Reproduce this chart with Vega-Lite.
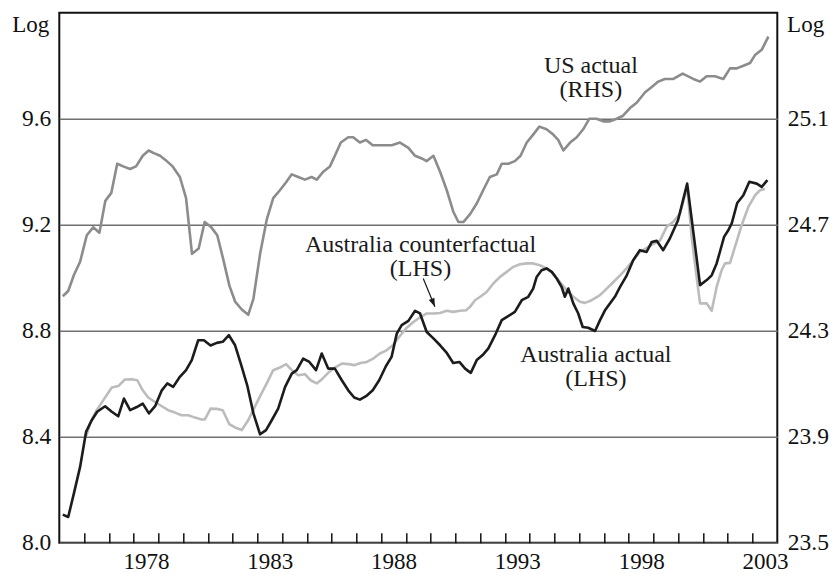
{
  "$schema": "https://vega.github.io/schema/vega-lite/v6.json",
  "width": 718,
  "height": 530,
  "autosize": {"type": "none"},
  "padding": {"left": 59.3, "top": 12.7, "right": 52.7, "bottom": 31.3},
  "background": "#ffffff",
  "config": {
    "font": "Liberation Serif",
    "view": {"stroke": "#111111", "strokeWidth": 2},
    "axis": {
      "labelFont": "Liberation Serif",
      "labelFontSize": 23.5,
      "labelColor": "#111111",
      "titleFont": "Liberation Serif",
      "titleFontWeight": "normal",
      "titleFontSize": 23,
      "titleColor": "#111111"
    }
  },
  "datasets": {
    "us": [
      {"year": 1975.14, "value": 24.43}, {"year": 1975.36, "value": 24.45}, {"year": 1975.59, "value": 24.51}, {"year": 1975.84, "value": 24.56},
      {"year": 1976.11, "value": 24.66}, {"year": 1976.37, "value": 24.69}, {"year": 1976.62, "value": 24.67}, {"year": 1976.86, "value": 24.79},
      {"year": 1977.10, "value": 24.82}, {"year": 1977.34, "value": 24.93}, {"year": 1977.58, "value": 24.92}, {"year": 1977.86, "value": 24.91},
      {"year": 1978.10, "value": 24.92}, {"year": 1978.37, "value": 24.96}, {"year": 1978.61, "value": 24.98}, {"year": 1978.82, "value": 24.97},
      {"year": 1979.07, "value": 24.96}, {"year": 1979.34, "value": 24.94}, {"year": 1979.58, "value": 24.92}, {"year": 1979.87, "value": 24.88},
      {"year": 1980.12, "value": 24.80}, {"year": 1980.36, "value": 24.59}, {"year": 1980.63, "value": 24.61}, {"year": 1980.87, "value": 24.71},
      {"year": 1981.14, "value": 24.69}, {"year": 1981.38, "value": 24.66}, {"year": 1981.62, "value": 24.57}, {"year": 1981.87, "value": 24.47},
      {"year": 1982.10, "value": 24.41}, {"year": 1982.37, "value": 24.38}, {"year": 1982.63, "value": 24.36}, {"year": 1982.84, "value": 24.42},
      {"year": 1983.11, "value": 24.59}, {"year": 1983.38, "value": 24.72}, {"year": 1983.64, "value": 24.80}, {"year": 1983.91, "value": 24.83},
      {"year": 1984.16, "value": 24.86}, {"year": 1984.39, "value": 24.89}, {"year": 1984.65, "value": 24.88}, {"year": 1984.92, "value": 24.87},
      {"year": 1985.19, "value": 24.88}, {"year": 1985.40, "value": 24.87}, {"year": 1985.66, "value": 24.90}, {"year": 1985.93, "value": 24.92},
      {"year": 1986.13, "value": 24.96}, {"year": 1986.37, "value": 25.01}, {"year": 1986.67, "value": 25.03}, {"year": 1986.87, "value": 25.03},
      {"year": 1987.14, "value": 25.01}, {"year": 1987.39, "value": 25.02}, {"year": 1987.66, "value": 25.00}, {"year": 1987.88, "value": 25.00},
      {"year": 1988.15, "value": 25.00}, {"year": 1988.43, "value": 25.00}, {"year": 1988.76, "value": 25.01}, {"year": 1989.10, "value": 24.99},
      {"year": 1989.37, "value": 24.96}, {"year": 1989.64, "value": 24.95}, {"year": 1989.84, "value": 24.94}, {"year": 1990.11, "value": 24.96},
      {"year": 1990.38, "value": 24.90}, {"year": 1990.65, "value": 24.83}, {"year": 1990.91, "value": 24.75}, {"year": 1991.12, "value": 24.71},
      {"year": 1991.32, "value": 24.71}, {"year": 1991.59, "value": 24.74}, {"year": 1991.86, "value": 24.78}, {"year": 1992.12, "value": 24.83},
      {"year": 1992.39, "value": 24.88}, {"year": 1992.67, "value": 24.89}, {"year": 1992.87, "value": 24.93}, {"year": 1993.13, "value": 24.93},
      {"year": 1993.40, "value": 24.94}, {"year": 1993.63, "value": 24.96}, {"year": 1993.88, "value": 25.01}, {"year": 1994.14, "value": 25.04},
      {"year": 1994.39, "value": 25.07}, {"year": 1994.68, "value": 25.06}, {"year": 1994.95, "value": 25.04}, {"year": 1995.15, "value": 25.02},
      {"year": 1995.36, "value": 24.98}, {"year": 1995.63, "value": 25.01}, {"year": 1995.90, "value": 25.03}, {"year": 1996.16, "value": 25.06},
      {"year": 1996.41, "value": 25.10}, {"year": 1996.70, "value": 25.10}, {"year": 1996.97, "value": 25.09}, {"year": 1997.24, "value": 25.09},
      {"year": 1997.51, "value": 25.10}, {"year": 1997.75, "value": 25.11}, {"year": 1998.05, "value": 25.14}, {"year": 1998.32, "value": 25.16},
      {"year": 1998.66, "value": 25.20}, {"year": 1998.93, "value": 25.22}, {"year": 1999.19, "value": 25.24}, {"year": 1999.46, "value": 25.25},
      {"year": 1999.80, "value": 25.25}, {"year": 2000.18, "value": 25.27}, {"year": 2000.40, "value": 25.26}, {"year": 2000.61, "value": 25.25},
      {"year": 2000.88, "value": 25.24}, {"year": 2001.15, "value": 25.26}, {"year": 2001.48, "value": 25.26}, {"year": 2001.82, "value": 25.25},
      {"year": 2002.09, "value": 25.29}, {"year": 2002.36, "value": 25.29}, {"year": 2002.63, "value": 25.30}, {"year": 2002.90, "value": 25.31},
      {"year": 2003.10, "value": 25.34}, {"year": 2003.37, "value": 25.36}, {"year": 2003.64, "value": 25.41}
    ],
    "aus": [
      {"year": 1975.14, "value": 8.106}, {"year": 1975.36, "value": 8.097}, {"year": 1975.59, "value": 8.186}, {"year": 1975.84, "value": 8.286},
      {"year": 1976.08, "value": 8.418}, {"year": 1976.31, "value": 8.462}, {"year": 1976.53, "value": 8.494}, {"year": 1976.85, "value": 8.515},
      {"year": 1977.12, "value": 8.494}, {"year": 1977.38, "value": 8.477}, {"year": 1977.61, "value": 8.544}, {"year": 1977.86, "value": 8.500},
      {"year": 1978.13, "value": 8.512}, {"year": 1978.37, "value": 8.525}, {"year": 1978.62, "value": 8.488}, {"year": 1978.87, "value": 8.515},
      {"year": 1979.14, "value": 8.575}, {"year": 1979.36, "value": 8.601}, {"year": 1979.60, "value": 8.588}, {"year": 1979.87, "value": 8.626},
      {"year": 1980.12, "value": 8.651}, {"year": 1980.35, "value": 8.689}, {"year": 1980.61, "value": 8.764}, {"year": 1980.84, "value": 8.764},
      {"year": 1981.11, "value": 8.744}, {"year": 1981.36, "value": 8.754}, {"year": 1981.60, "value": 8.758}, {"year": 1981.85, "value": 8.783},
      {"year": 1982.10, "value": 8.745}, {"year": 1982.33, "value": 8.676}, {"year": 1982.59, "value": 8.594}, {"year": 1982.84, "value": 8.488},
      {"year": 1983.11, "value": 8.409}, {"year": 1983.35, "value": 8.425}, {"year": 1983.58, "value": 8.462}, {"year": 1983.84, "value": 8.506},
      {"year": 1984.12, "value": 8.588}, {"year": 1984.39, "value": 8.638}, {"year": 1984.59, "value": 8.651}, {"year": 1984.85, "value": 8.695},
      {"year": 1985.10, "value": 8.682}, {"year": 1985.37, "value": 8.651}, {"year": 1985.60, "value": 8.714}, {"year": 1985.86, "value": 8.657},
      {"year": 1986.13, "value": 8.657}, {"year": 1986.41, "value": 8.613}, {"year": 1986.67, "value": 8.575}, {"year": 1986.91, "value": 8.548},
      {"year": 1987.14, "value": 8.540}, {"year": 1987.39, "value": 8.553}, {"year": 1987.66, "value": 8.575}, {"year": 1987.92, "value": 8.613},
      {"year": 1988.19, "value": 8.666}, {"year": 1988.42, "value": 8.701}, {"year": 1988.63, "value": 8.789}, {"year": 1988.83, "value": 8.821},
      {"year": 1989.10, "value": 8.837}, {"year": 1989.37, "value": 8.875}, {"year": 1989.57, "value": 8.865}, {"year": 1989.84, "value": 8.795},
      {"year": 1990.11, "value": 8.771}, {"year": 1990.38, "value": 8.745}, {"year": 1990.65, "value": 8.716}, {"year": 1990.91, "value": 8.678},
      {"year": 1991.16, "value": 8.682}, {"year": 1991.39, "value": 8.657}, {"year": 1991.62, "value": 8.641}, {"year": 1991.86, "value": 8.689},
      {"year": 1992.10, "value": 8.708}, {"year": 1992.33, "value": 8.733}, {"year": 1992.60, "value": 8.783}, {"year": 1992.87, "value": 8.840},
      {"year": 1993.13, "value": 8.855}, {"year": 1993.40, "value": 8.871}, {"year": 1993.68, "value": 8.915}, {"year": 1993.94, "value": 8.928},
      {"year": 1994.14, "value": 8.959}, {"year": 1994.28, "value": 9.003}, {"year": 1994.48, "value": 9.028}, {"year": 1994.68, "value": 9.035},
      {"year": 1994.89, "value": 9.022}, {"year": 1995.09, "value": 8.997}, {"year": 1995.29, "value": 8.965}, {"year": 1995.42, "value": 8.928},
      {"year": 1995.56, "value": 8.959}, {"year": 1995.76, "value": 8.903}, {"year": 1995.96, "value": 8.865}, {"year": 1996.14, "value": 8.814},
      {"year": 1996.36, "value": 8.811}, {"year": 1996.64, "value": 8.799}, {"year": 1996.84, "value": 8.840}, {"year": 1997.04, "value": 8.877},
      {"year": 1997.24, "value": 8.903}, {"year": 1997.44, "value": 8.928}, {"year": 1997.65, "value": 8.965}, {"year": 1997.92, "value": 9.009},
      {"year": 1998.18, "value": 9.066}, {"year": 1998.45, "value": 9.104}, {"year": 1998.72, "value": 9.097}, {"year": 1998.93, "value": 9.135},
      {"year": 1999.13, "value": 9.139}, {"year": 1999.39, "value": 9.104}, {"year": 1999.66, "value": 9.148}, {"year": 1999.99, "value": 9.217},
      {"year": 2000.36, "value": 9.355}, {"year": 2000.88, "value": 8.972}, {"year": 2001.15, "value": 8.991}, {"year": 2001.35, "value": 9.009},
      {"year": 2001.55, "value": 9.054}, {"year": 2001.68, "value": 9.097}, {"year": 2001.85, "value": 9.154}, {"year": 2002.02, "value": 9.179},
      {"year": 2002.16, "value": 9.205}, {"year": 2002.38, "value": 9.282}, {"year": 2002.63, "value": 9.311}, {"year": 2002.87, "value": 9.362},
      {"year": 2003.17, "value": 9.355}, {"year": 2003.37, "value": 9.343}, {"year": 2003.60, "value": 9.368}
    ],
    "cf": [
      {"year": 1976.08, "value": 8.399}, {"year": 1976.24, "value": 8.450}, {"year": 1976.51, "value": 8.500}, {"year": 1976.78, "value": 8.538},
      {"year": 1977.12, "value": 8.586}, {"year": 1977.38, "value": 8.591}, {"year": 1977.65, "value": 8.616}, {"year": 1977.92, "value": 8.617},
      {"year": 1978.15, "value": 8.613}, {"year": 1978.37, "value": 8.575}, {"year": 1978.59, "value": 8.548}, {"year": 1978.87, "value": 8.531},
      {"year": 1979.14, "value": 8.515}, {"year": 1979.40, "value": 8.500}, {"year": 1979.67, "value": 8.491}, {"year": 1979.94, "value": 8.481},
      {"year": 1980.21, "value": 8.481}, {"year": 1980.48, "value": 8.472}, {"year": 1980.75, "value": 8.465}, {"year": 1980.88, "value": 8.465},
      {"year": 1981.11, "value": 8.506}, {"year": 1981.36, "value": 8.505}, {"year": 1981.60, "value": 8.500}, {"year": 1981.87, "value": 8.447},
      {"year": 1982.10, "value": 8.435}, {"year": 1982.37, "value": 8.425}, {"year": 1982.63, "value": 8.462}, {"year": 1982.86, "value": 8.506},
      {"year": 1983.13, "value": 8.557}, {"year": 1983.38, "value": 8.601}, {"year": 1983.64, "value": 8.651}, {"year": 1983.91, "value": 8.661},
      {"year": 1984.16, "value": 8.674}, {"year": 1984.39, "value": 8.651}, {"year": 1984.65, "value": 8.632}, {"year": 1984.92, "value": 8.636},
      {"year": 1985.15, "value": 8.613}, {"year": 1985.40, "value": 8.601}, {"year": 1985.64, "value": 8.620}, {"year": 1985.86, "value": 8.641},
      {"year": 1986.13, "value": 8.661}, {"year": 1986.41, "value": 8.676}, {"year": 1986.67, "value": 8.674}, {"year": 1986.91, "value": 8.670},
      {"year": 1987.17, "value": 8.678}, {"year": 1987.42, "value": 8.682}, {"year": 1987.68, "value": 8.695}, {"year": 1987.95, "value": 8.714},
      {"year": 1988.22, "value": 8.726}, {"year": 1988.47, "value": 8.745}, {"year": 1988.73, "value": 8.777}, {"year": 1989.00, "value": 8.808},
      {"year": 1989.30, "value": 8.833}, {"year": 1989.57, "value": 8.850}, {"year": 1989.84, "value": 8.865}, {"year": 1990.11, "value": 8.865},
      {"year": 1990.38, "value": 8.867}, {"year": 1990.65, "value": 8.875}, {"year": 1990.91, "value": 8.871}, {"year": 1991.18, "value": 8.875},
      {"year": 1991.43, "value": 8.877}, {"year": 1991.59, "value": 8.890}, {"year": 1991.79, "value": 8.915}, {"year": 1992.00, "value": 8.928},
      {"year": 1992.26, "value": 8.946}, {"year": 1992.53, "value": 8.978}, {"year": 1992.80, "value": 9.003}, {"year": 1993.07, "value": 9.022},
      {"year": 1993.34, "value": 9.041}, {"year": 1993.61, "value": 9.051}, {"year": 1993.88, "value": 9.054}, {"year": 1994.14, "value": 9.054},
      {"year": 1994.41, "value": 9.047}, {"year": 1994.68, "value": 9.035}, {"year": 1994.95, "value": 9.016}, {"year": 1995.22, "value": 8.984},
      {"year": 1995.49, "value": 8.953}, {"year": 1995.76, "value": 8.928}, {"year": 1996.03, "value": 8.909}, {"year": 1996.23, "value": 8.905},
      {"year": 1996.50, "value": 8.915}, {"year": 1996.84, "value": 8.934}, {"year": 1997.11, "value": 8.959}, {"year": 1997.37, "value": 8.983},
      {"year": 1997.65, "value": 9.009}, {"year": 1997.92, "value": 9.036}, {"year": 1998.18, "value": 9.066}, {"year": 1998.45, "value": 9.097},
      {"year": 1998.79, "value": 9.116}, {"year": 1999.06, "value": 9.131}, {"year": 1999.26, "value": 9.140}, {"year": 1999.53, "value": 9.192},
      {"year": 1999.80, "value": 9.211}, {"year": 2000.07, "value": 9.242}, {"year": 2000.27, "value": 9.311}, {"year": 2000.36, "value": 9.343},
      {"year": 2000.54, "value": 9.154}, {"year": 2000.74, "value": 9.003}, {"year": 2000.88, "value": 8.903}, {"year": 2001.15, "value": 8.903},
      {"year": 2001.35, "value": 8.875}, {"year": 2001.55, "value": 8.965}, {"year": 2001.75, "value": 9.028}, {"year": 2001.89, "value": 9.054},
      {"year": 2002.09, "value": 9.056}, {"year": 2002.29, "value": 9.116}, {"year": 2002.56, "value": 9.198}, {"year": 2002.83, "value": 9.267},
      {"year": 2003.10, "value": 9.311}, {"year": 2003.30, "value": 9.330}, {"year": 2003.50, "value": 9.335}
    ],
    "notes": [
      {"year": 1996.47, "value": 9.771, "text": "US actual\n(RHS)"},
      {"year": 1989.59, "value": 9.097, "text": "Australia counterfactual\n(LHS)"},
      {"year": 1996.67, "value": 8.682, "text": "Australia actual\n(LHS)"}
    ],
    "arrow": [
      {"year": 1989.70, "value": 8.997, "year2": 1990.17, "value2": 8.890}
    ]
  },
  "layer": [
    {
      "encoding": {
        "x": {
          "field": "year", "type": "quantitative",
          "scale": {"domain": [1975, 2004], "nice": false, "zero": false},
          "axis": {
            "orient": "bottom",
            "title": null, "labels": false, "domain": false, "grid": false,
            "values": [1976,1977,1978,1979,1980,1981,1982,1983,1984,1985,1986,1987,1988,1989,1990,1991,1992,1993,1994,1995,1996,1997,1998,1999,2000,2001,2002,2003],
            "ticks": true, "tickSize": 10, "offset": -10, "tickColor": "#111111", "tickWidth": 1.5
          }
        },
        "y": {
          "field": "value", "type": "quantitative",
          "scale": {"domain": [8, 10], "nice": false, "zero": false},
          "axis": {
            "values": [8.0, 8.4, 8.8, 9.2, 9.6], "format": ".1f",
            "grid": true, "gridColor": "#707070", "gridWidth": 1.5,
            "ticks": false, "domain": false, "labelPadding": 8.5,
            "title": "Log", "titleAngle": 0, "titleAlign": "left", "titleBaseline": "alphabetic",
            "titleX": -47.6, "titleY": 19
          }
        }
      },
      "layer": [
        {"data": {"name": "cf"}, "mark": {"type": "line", "color": "#bcbcbc", "strokeWidth": 2.6, "strokeJoin": "round"}},
        {"data": {"name": "aus"}, "mark": {"type": "line", "color": "#1c1c1c", "strokeWidth": 2.6, "strokeJoin": "round"}},
        {
          "data": {"name": "notes"},
          "mark": {"type": "text", "font": "Liberation Serif", "fontSize": 24, "align": "center", "baseline": "alphabetic", "color": "#1a1a1a", "lineBreak": "\n", "lineHeight": 24},
          "encoding": {"text": {"field": "text"}}
        },
        {
          "data": {"name": "arrow"},
          "mark": {"type": "rule", "color": "#1a1a1a", "strokeWidth": 1.2},
          "encoding": {"x2": {"field": "year2"}, "y2": {"field": "value2"}}
        },
        {
          "data": {"name": "arrow"},
          "mark": {"type": "point", "shape": "M0,0L-0.35,-1L0.35,-1Z", "filled": true, "color": "#1a1a1a", "opacity": 1, "size": 300, "angle": 337.6},
          "encoding": {"x": {"field": "year2", "type": "quantitative"}, "y": {"field": "value2", "type": "quantitative"}}
        }
      ]
    },
    {
      "data": {"name": "us"},
      "mark": {"type": "line", "color": "#8c8c8c", "strokeWidth": 2.6, "strokeJoin": "round"},
      "encoding": {
        "x": {
          "field": "year", "type": "quantitative",
          "scale": {"domain": [1975, 2004], "nice": false, "zero": false},
          "axis": {
            "orient": "bottom",
            "title": null, "domain": false, "grid": false, "ticks": false,
            "values": [1978.5, 1983.5, 1988.5, 1993.5, 1998.5, 2003.5],
            "labelExpr": "floor(datum.value)", "labelFlush": false, "labelOverlap": false,
            "labelPadding": 8, "labelFontSize": 23
          }
        },
        "y": {
          "field": "value", "type": "quantitative",
          "scale": {"domain": [23.5, 25.5], "nice": false, "zero": false},
          "axis": {
            "orient": "right",
            "values": [23.5, 23.9, 24.3, 24.7, 25.1], "format": ".1f",
            "grid": false, "ticks": false, "domain": false, "labelPadding": 10,
            "title": "Log", "titleAngle": 0, "titleAlign": "left", "titleBaseline": "alphabetic",
            "titleX": 9.3, "titleY": 19
          }
        }
      }
    }
  ],
  "resolve": {"scale": {"y": "independent"}, "axis": {"x": "independent", "y": "independent"}}
}
